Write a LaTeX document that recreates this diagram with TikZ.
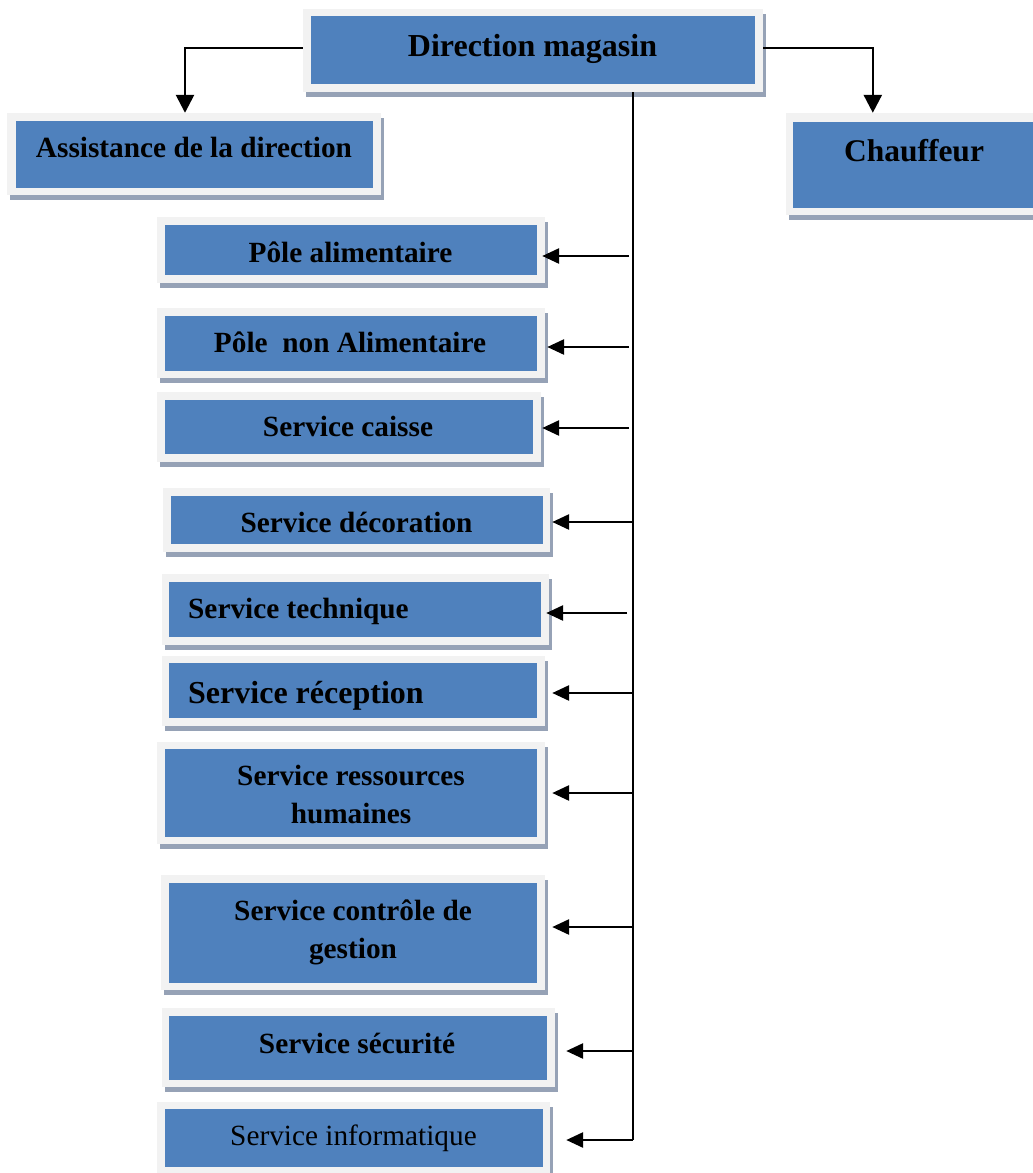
\documentclass[tikz,border=0pt]{standalone}
\usepackage{fontspec}
\setmainfont{Liberation Serif}
\usetikzlibrary{arrows.meta,fit}

\definecolor{boxblue}{RGB}{79,129,189}
\definecolor{framegrey}{RGB}{242,242,242}
\definecolor{shadowgrey}{RGB}{150,162,182}

\tikzset{
  outerframe/.style={fill=framegrey, inner sep=0pt},
  innerbox/.style={fill=boxblue, inner sep=0pt},
  lbl/.style={anchor=base, inner sep=0pt, align=center,
    font=\fontsize{29.3}{38}\selectfont\bfseries},
  biglbl/.style={lbl, font=\fontsize{32}{38}\selectfont\bfseries},
  link/.style={line width=2.6pt},
  arr/.style={line width=2.8pt, -{Triangle[length=17pt,width=15pt]}},
  arrdown/.style={line width=2.6pt, -{Triangle[length=18pt,width=18pt]}},
}

% #1 name, #2-#5 outer frame corners, #6-#9 blue panel corners
\newcommand{\orgbox}[9]{%
  \fill[shadowgrey] (#2+3,#3+5) rectangle (#4+3,#5+5);
  \node[outerframe, fit={(#2,#3) (#4,#5)}] (#1) {};
  \node[innerbox, fit={(#6,#7) (#8,#9)}] (#1-in) {};
}

\begin{document}
\begin{tikzpicture}[x=1pt, y=-1pt]
\useasboundingbox (0,0) rectangle (1033,1173);

% boxes
\orgbox{dir}{303}{9}{763}{92}{311}{16}{755}{84}
\orgbox{asst}{7}{113}{381}{195}{16}{121}{373}{188}
\orgbox{chauf}{786}{113}{1045}{215}{793}{122}{1045}{208}
\orgbox{pole1}{157}{217}{545}{283}{165}{225}{537}{275}
\orgbox{pole2}{157}{308}{545}{378}{165}{316}{537}{371}
\orgbox{caisse}{157}{392}{541}{462}{165}{400}{533}{454}
\orgbox{deco}{163}{488}{550}{552}{171}{496}{543}{544}
\orgbox{tech}{162}{574}{549}{645}{169}{582}{541}{637}
\orgbox{recep}{162}{656}{545}{726}{169}{663}{537}{718}
\orgbox{rh}{157}{742}{545}{844}{165}{749}{537}{837}
\orgbox{ctrl}{161}{875}{545}{990}{169}{883}{537}{983}
\orgbox{secu}{162}{1008}{555}{1087}{169}{1016}{547}{1080}
\orgbox{info}{157}{1102}{550}{1180}{165}{1109}{543}{1167}

% labels (base anchor = baseline of the last line)
\node[biglbl] (dir-t) at (532.5,56) {Direction magasin};
\node[lbl] (asst-t) at (194,157.3) {Assistance de la direction};
\node[lbl, font=\fontsize{31.5}{38}\selectfont\bfseries] (chauf-t) at (914,161) {Chauffeur};
\node[lbl] (pole1-t) at (350.5,262.3) {Pôle alimentaire};
\node[lbl] (pole2-t) at (350,352.7) {Pôle\ \ non Alimentaire};
\node[lbl] (caisse-t) at (348,436) {Service caisse};
\node[lbl] (deco-t) at (356.5,532.7) {Service décoration};
\node[lbl, anchor=base west] (tech-t) at (188,618.3) {Service technique};
\node[biglbl, anchor=base west] (recep-t) at (188,703.3) {Service réception};
\node[lbl] (rh-t) at (351,823) {Service ressources\\humaines};
\node[lbl] (ctrl-t) at (353,958) {Service contrôle de\\gestion};
\node[lbl] (secu-t) at (357,1053.3) {Service sécurité};
\node[lbl] (info-t) at (353.5,1145) {\mdseries Service informatique};

% top connectors
\draw[arrdown] ([yshift=2.5pt]dir.west) -| ([xshift=-9pt]asst.north);
\draw[arrdown] ([yshift=2.5pt]dir.east) -| ([xshift=87pt]chauf.north west);

% trunk and branches
\coordinate (tb) at (633,1140);
\coordinate (j1) at (629,256);
\coordinate (j2) at (629,347);
\coordinate (j3) at (629,428);
\coordinate (j4) at (633,522);
\coordinate (j5) at (627,613);
\coordinate (j6) at (633,693);
\coordinate (j7) at (633,793);
\coordinate (j8) at (633,927);
\coordinate (j9) at (633,1051);

\draw[link] (dir.south -| tb) -- (tb);
\draw[arr] (tb) -- ([xshift=16pt]info.east |- tb);
\draw[arr] (j1) -- ([xshift=-3pt]pole1.east |- j1);
\draw[arr] (j2) -- ([xshift=2pt]pole2.east |- j2);
\draw[arr] (j3) -- ([xshift=1pt]caisse.east |- j3);
\draw[arr] (j4) -- ([xshift=2pt]deco.east |- j4);
\draw[arr] (j5) -- ([xshift=-3pt]tech.east |- j5);
\draw[arr] (j6) -- ([xshift=7pt]recep.east |- j6);
\draw[arr] (j7) -- ([xshift=7pt]rh.east |- j7);
\draw[arr] (j8) -- ([xshift=7pt]ctrl.east |- j8);
\draw[arr] (j9) -- ([xshift=11pt]secu.east |- j9);
\end{tikzpicture}
\end{document}
